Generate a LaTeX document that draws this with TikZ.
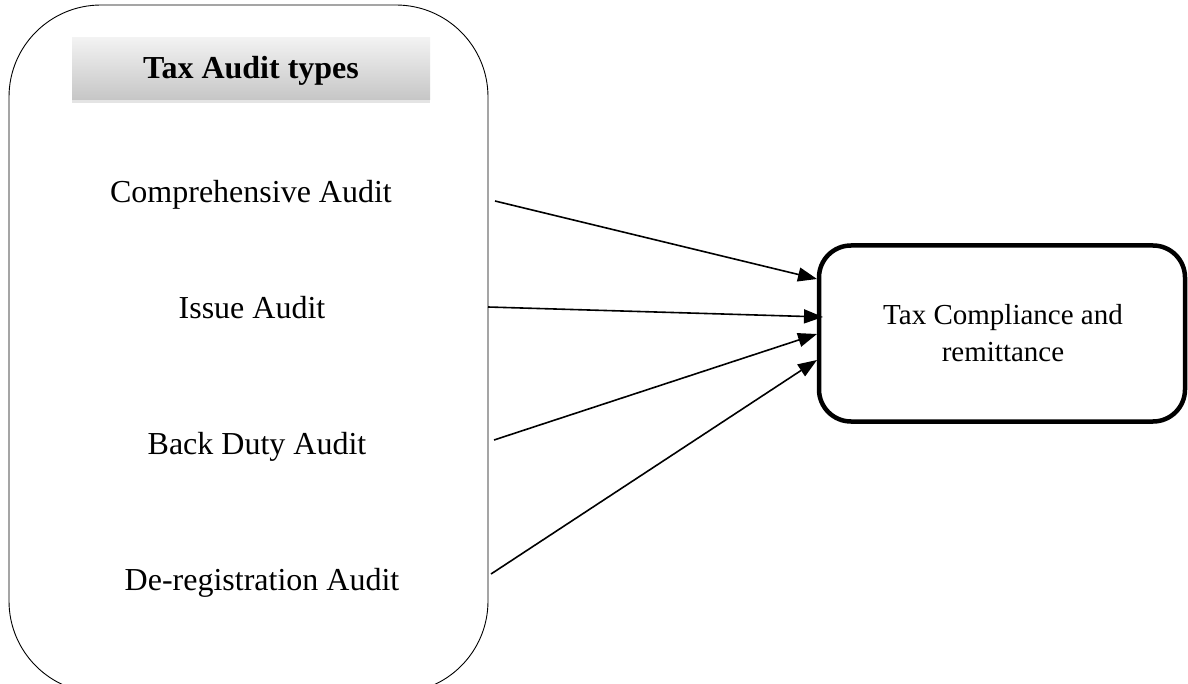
\documentclass[tikz,border=0pt]{standalone}
\usepackage{fontspec}
\setmainfont{Liberation Serif}
\usetikzlibrary{arrows.meta,shadows}
\begin{document}
\begin{tikzpicture}[x=1pt,y=-1pt,
  lbl/.style={anchor=base,inner sep=0pt,font=\fontsize{32}{38}\selectfont},
  rlbl/.style={anchor=base,inner sep=0pt,font=\fontsize{29}{35}\selectfont},
  conn/.style={line width=1.6pt,-{Triangle[length=19pt,width=14pt]}}]
\useasboundingbox (0,0) rectangle (1188,684);
\clip (0,0) rectangle (1188,684);
\fill[white] (0,0) rectangle (1188,684);
% left group box
\node[draw,line width=0.9pt,rounded corners=92pt,minimum width=479pt,minimum height=688pt,inner sep=0pt] (group) at (248.5,349) {};
% header
\node[minimum width=358pt,minimum height=62pt,inner sep=0pt,
  top color=gray!10,bottom color=gray!45,
  drop shadow={shadow xshift=0pt,shadow yshift=-3pt,fill=gray!60,opacity=0.35}] (head) at (251,69) {};
\node[anchor=base,inner sep=0pt,font=\fontsize{32}{38}\selectfont\bfseries] (headtxt) at (251,79) {Tax Audit types};
% items
\node[lbl] (comp) at (251,203) {Comprehensive Audit};
\node[lbl] (issue) at (252,319) {Issue Audit};
\node[lbl] (back) at (257,454) {Back Duty Audit};
\node[lbl] (dereg) at (262,590) {De-registration Audit};
% target
\node[draw,line width=4.5pt,rounded corners=32pt,minimum width=366pt,minimum height=176pt,inner sep=0pt] (target) at (1002,333.5) {};
\node[rlbl] (t1txt) at (1003,325) {Tax Compliance and};
\node[rlbl] (t2txt) at (1003,362) {remittance};
% connector ends
\coordinate (s1) at (495,201);
\coordinate (s2) at (488,307);
\coordinate (s3) at (494,440);
\coordinate (s4) at (491,574);
\coordinate (e1) at (817,279);
\coordinate (e2) at (823,317);
\coordinate (e3) at (817,334);
\coordinate (e4) at (817,360);
\draw[conn] (s1) -- (e1);
\draw[conn] (s2) -- (e2);
\draw[conn] (s3) -- (e3);
\draw[conn] (s4) -- (e4);
\end{tikzpicture}
\end{document}
